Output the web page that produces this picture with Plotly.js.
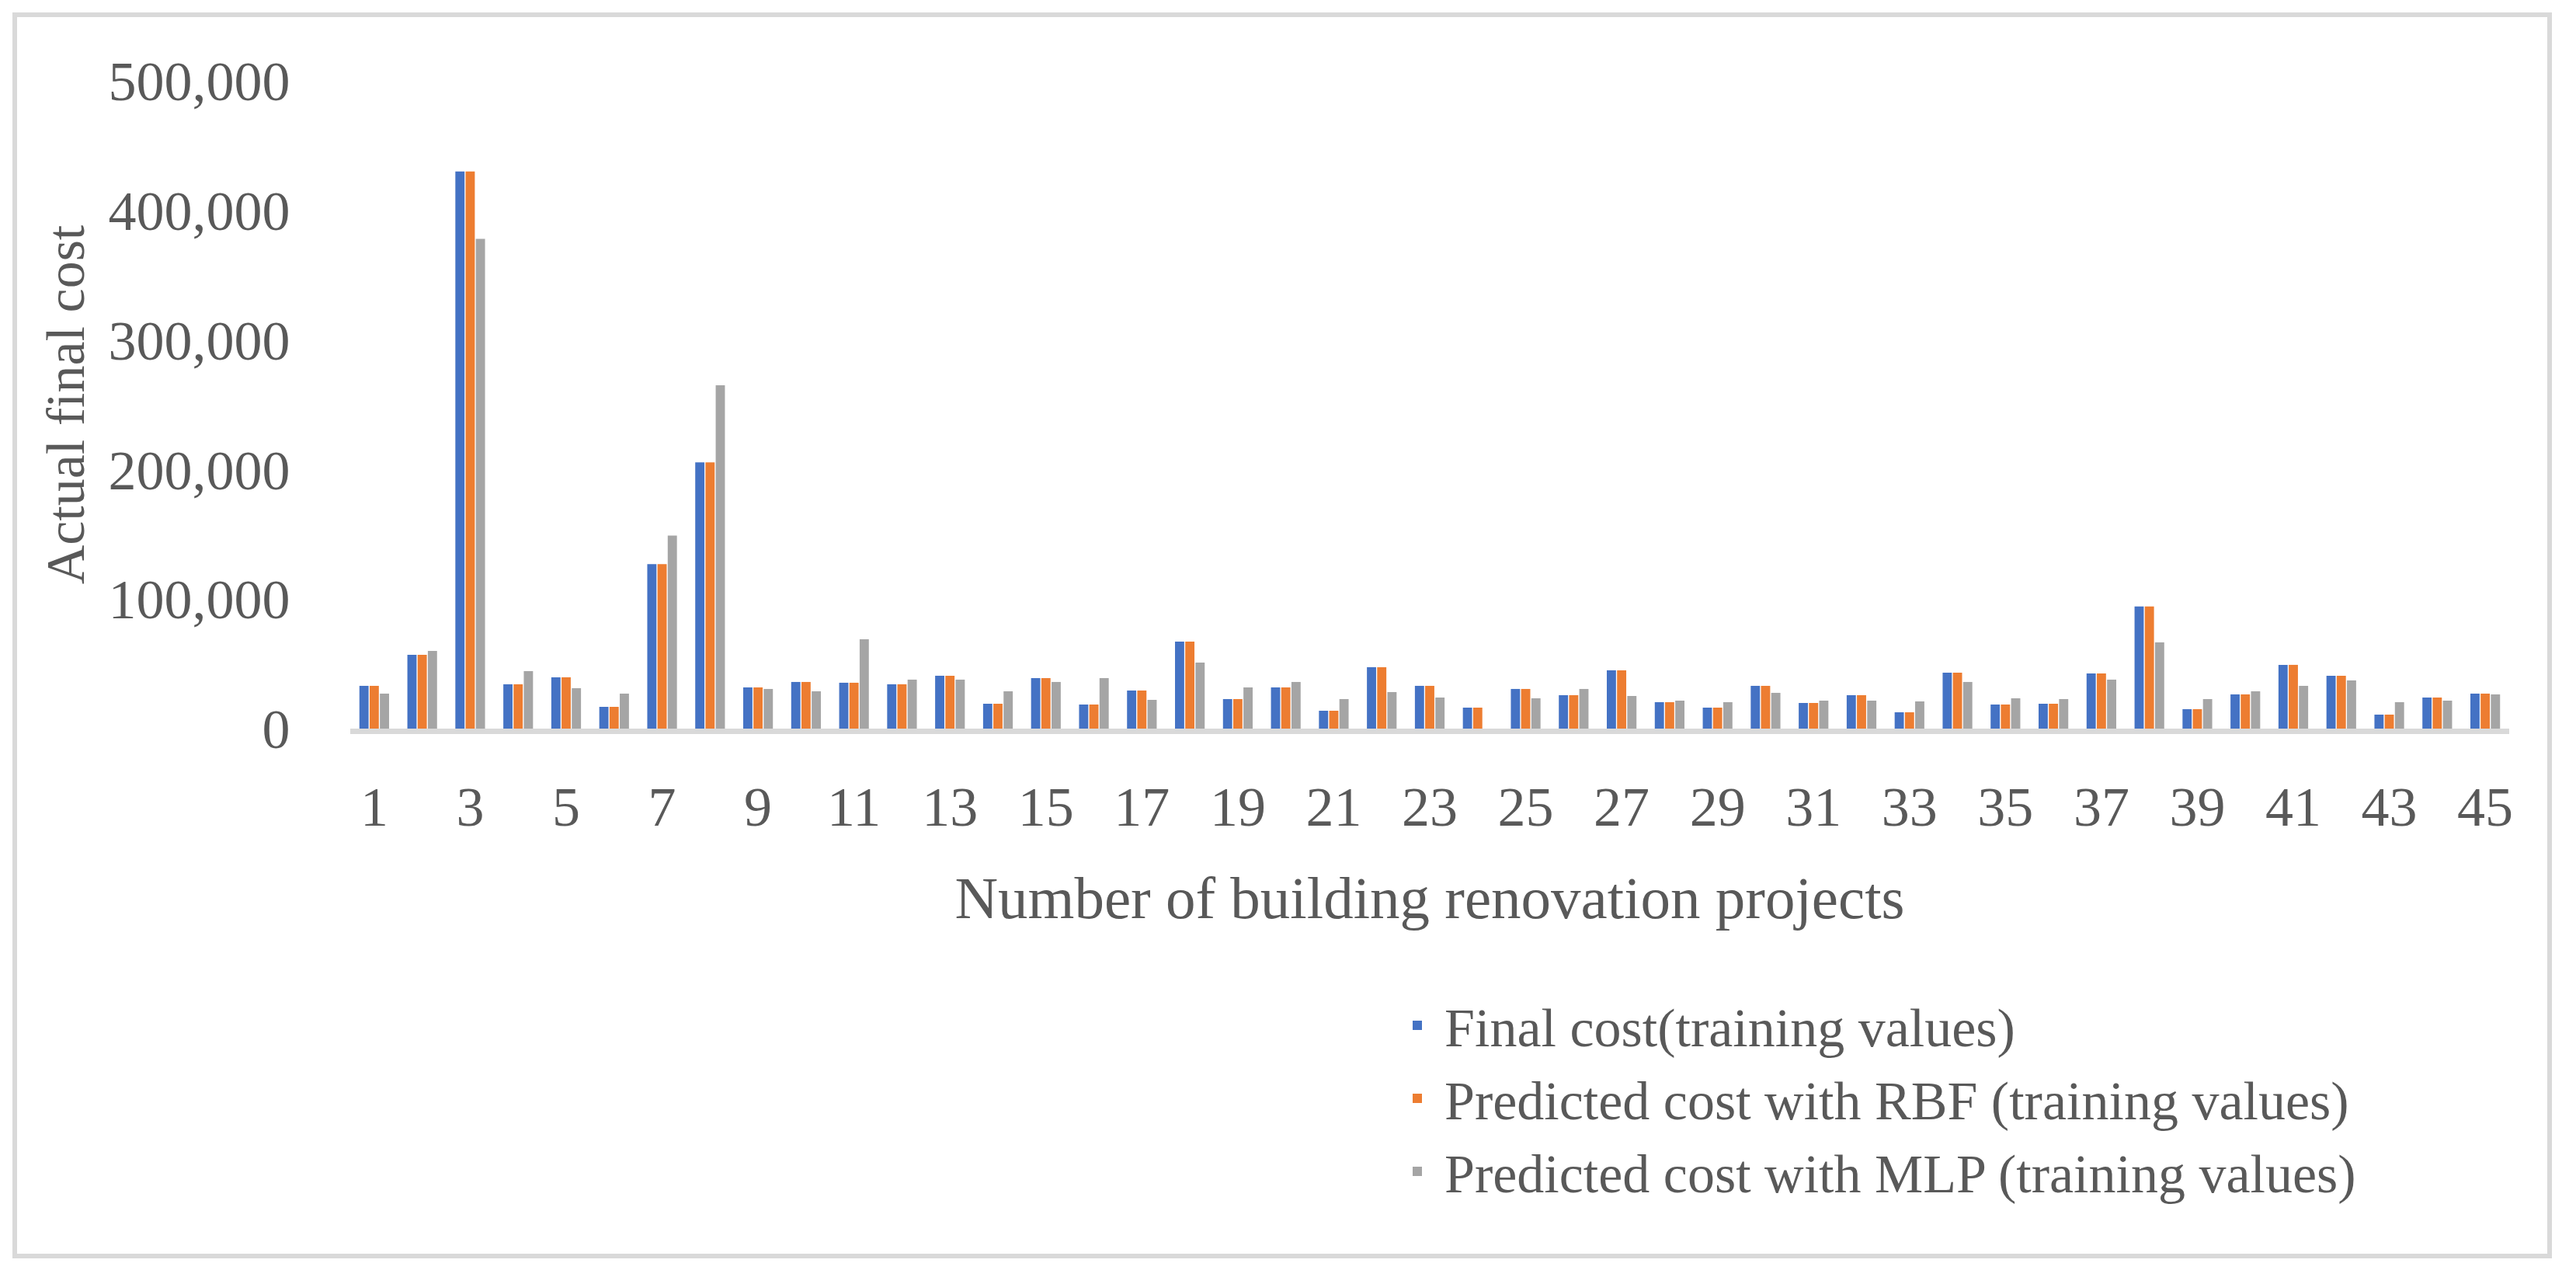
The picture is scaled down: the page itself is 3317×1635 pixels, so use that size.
<!DOCTYPE html>
<html>
<head>
<meta charset="utf-8">
<script src="https://cdn.plot.ly/plotly-3.0.1.min.js"></script>
<style>
  html, body { margin: 0; padding: 0; background: #ffffff; }
  #chart { width: 3317px; height: 1635px; }
</style>
</head>
<body>
<div id="chart"></div>
<script>
const categories = ["1","2","3","4","5","6","7","8","9","10","11","12","13","14","15","16","17","18","19","20","21","22","23","24","25","26","27","28","29","30","31","32","33","34","35","36","37","38","39","40","41","42","43","44","45"];
const tickLabels = ["1","3","5","7","9","11","13","15","17","19","21","23","25","27","29","31","33","35","37","39","41","43","45"];

const finalCost = [33000, 57000, 430000, 34200, 39600, 16800, 127000, 205500, 31800, 36000,
  35400, 34200, 40800, 19200, 39000, 18600, 29400, 67200, 22800, 31800,
  13800, 47400, 33000, 16200, 30600, 25800, 45000, 20400, 16200, 33000,
  19800, 25800, 12600, 43200, 18600, 19200, 42600, 94200, 15000, 26400,
  49200, 40800, 10800, 24000, 27000];
const rbfCost = [33000, 57000, 430000, 34200, 39600, 16800, 127000, 205500, 31800, 36000,
  35400, 34200, 40800, 19200, 39000, 18600, 29400, 67200, 22800, 31800,
  13800, 47400, 33000, 16200, 30600, 25800, 45000, 20400, 16200, 33000,
  19800, 25800, 12600, 43200, 18600, 19200, 42600, 94200, 15000, 26400,
  49200, 40800, 10800, 24000, 27000];
const mlpCost = [27000, 60000, 378000, 44400, 31200, 27000, 149000, 265000, 30600, 28800,
  69000, 37800, 37800, 28800, 36000, 39000, 22200, 51000, 31800, 36000,
  22800, 28200, 24000, 0, 23400, 30600, 25200, 21600, 20400, 27600,
  21600, 21600, 21000, 36000, 23400, 22800, 37800, 66600, 22800, 28800,
  33000, 37200, 20400, 21600, 26400];

const seriesNames = ["Final cost(training values)", "Predicted cost with RBF (training values)", "Predicted cost with MLP (training values)"];
const seriesColors = ["#4472C4", "#ED7D31", "#A5A5A5"];
const seriesValues = [finalCost, rbfCost, mlpCost];

const fontFam = "'Liberation Serif', 'DejaVu Serif', serif";
const textColor = "#595959";

const traces = seriesValues.map((vals, i) => ({
  type: "bar",
  x: categories,
  y: vals,
  name: seriesNames[i],
  marker: { color: seriesColors[i], line: { width: 0 } },
  hoverinfo: "skip"
}));

const L = 451, R = 3231, T = 104, B = 938;
const W = 3317, H = 1635;

const layout = {
  width: W,
  height: H,
  paper_bgcolor: "#ffffff",
  plot_bgcolor: "#ffffff",
  barmode: "group",
  bargap: 0.36,
  bargroupgap: 0.1,
  margin: { l: L, r: W - R, t: T, b: H - B, pad: 0 },
  font: { family: fontFam, color: textColor, size: 70 },
  showlegend: true,
  legend: {
    x: (1790 - L) / (R - L),
    xanchor: "left",
    y: (B - 1268) / (B - T),
    yanchor: "top",
    font: { family: fontFam, size: 70, color: textColor },
    tracegroupgap: 0,
    itemwidth: 60,
    bgcolor: "rgba(0,0,0,0)"
  },
  xaxis: {
    type: "category",
    tickmode: "array",
    tickvals: tickLabels,
    ticktext: tickLabels,
    ticks: "outside",
    ticklen: 32,
    tickcolor: "rgba(0,0,0,0)",
    tickfont: { family: fontFam, size: 72, color: textColor },
    showline: true,
    linecolor: "#D9D9D9",
    linewidth: 7,
    showgrid: false,
    zeroline: false,
    title: {
      text: "Number of building renovation projects",
      font: { family: fontFam, size: 77, color: textColor },
      standoff: 52
    }
  },
  yaxis: {
    range: [0, 500000],
    tickmode: "array",
    tickvals: [0, 100000, 200000, 300000, 400000, 500000],
    tickformat: ",d",
    ticks: "outside",
    ticklen: 62,
    tickcolor: "rgba(0,0,0,0)",
    tickfont: { family: fontFam, size: 72, color: textColor },
    showline: false,
    showgrid: false,
    zeroline: false,
    title: {
      text: "Actual final cost",
      font: { family: fontFam, size: 70, color: textColor },
      standoff: 8
    }
  },
  shapes: [{
    type: "rect",
    xref: "paper", yref: "paper",
    x0: (19 - L) / (R - L), x1: (3283 - L) / (R - L),
    y0: (B - 1617) / (B - T), y1: (B - 19) / (B - T),
    line: { color: "#D9D9D9", width: 6 },
    fillcolor: "rgba(0,0,0,0)",
    layer: "below"
  }]
};

Plotly.newPlot("chart", traces, layout, { staticPlot: true, displayModeBar: false });
</script>
</body>
</html>
